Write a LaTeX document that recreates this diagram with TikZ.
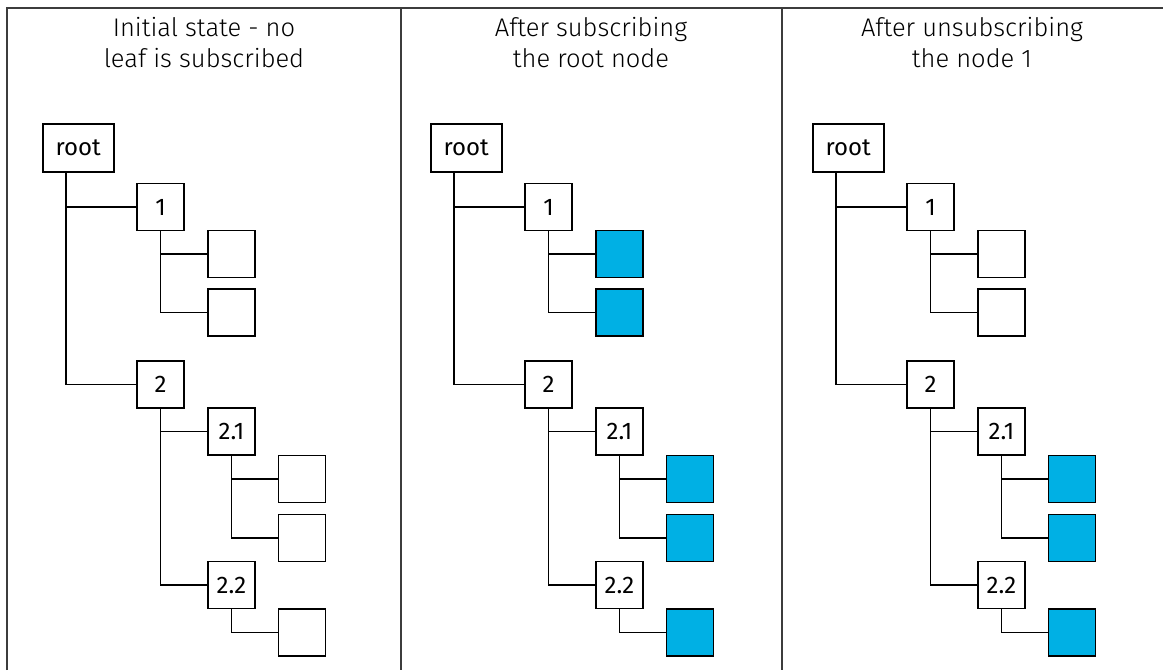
\documentclass[tikz,border=0pt]{standalone}
\usepackage{fontspec}
\setmainfont{Fira Sans}
\newfontfamily\titlefont{Fira Sans Light}
\definecolor{subblue}{RGB}{0,176,228}
\definecolor{framegray}{RGB}{60,60,60}
\usetikzlibrary{positioning,calc}

\begin{document}
\begin{tikzpicture}[x=1pt,y=-1pt,
  box/.style={draw,line width=1.5pt,minimum width=47pt,minimum height=47pt,inner sep=0pt,font=\fontsize{24}{28}\selectfont},
  rootbox/.style={box,minimum width=71pt,minimum height=48pt,anchor=west},
  leaf/.style={box,fill=#1},
  branch/.style={line width=1.5pt},
  frame/.style={framegray,line width=1.2pt},
  title/.style={align=center,inner sep=0pt,anchor=north,font=\titlefont\fontsize{25.5}{31}\selectfont}]
  \useasboundingbox (0,0) rectangle (1163,670);
  % Frame and panel dividers
  \draw[frame] (7,670) -- (7,8) -- (1163,8);
  \draw[frame] (401,8) -- (401,670);
  \draw[frame] (782,8) -- (782,670);
  % Panel titles
  \node[title] (t1) at (204,17) {Initial state - no\\leaf is subscribed};
  \node[title] (t2) at (591,17) {After subscribing\\the root node};
  \node[title] (t3) at (972,17) {After unsubscribing\\the node 1};
  % One tree per panel
  \foreach \p/\dx/\fa/\fb in {a/0/white/white, b/388/subblue/subblue, c/770/white/subblue}{
    \begin{scope}[xshift=\dx]
      \node[rootbox] (\p root) at (42,148) {root};
      \node[box] (\p n1) at (160.5,207) {1};
      \node[box] (\p n2) at (160.5,384.5) {2};
      \node[leaf=\fa] (\p l11) at (231.5,254) {};
      \node[leaf=\fa] (\p l12) at (231.5,312.5) {};
      \node[box] (\p n21) at (231.5,431.5) {2.1};
      \node[box] (\p n22) at (231.5,585) {2.2};
      \node[leaf=\fb] (\p l211) at (302,479) {};
      \node[leaf=\fb] (\p l212) at (302,538) {};
      \node[leaf=\fb] (\p l221) at (302,632.5) {};
      % Branches
      \coordinate (\p trunk) at ($(\p root.south west)+(24,0)$);
      \draw[branch] (\p trunk) |- (\p n1.west);
      \draw[branch] (\p trunk) |- (\p n2.west);
      \draw[branch] (\p n1.south) |- (\p l11.west);
      \draw[branch] (\p n1.south) |- (\p l12.west);
      \draw[branch] (\p n2.south) |- (\p n21.west);
      \draw[branch] (\p n2.south) |- (\p n22.west);
      \draw[branch] (\p n21.south) |- (\p l211.west);
      \draw[branch] (\p n21.south) |- (\p l212.west);
      \draw[branch] (\p n22.south) |- (\p l221.west);
    \end{scope}
  }
\end{tikzpicture}
\end{document}
